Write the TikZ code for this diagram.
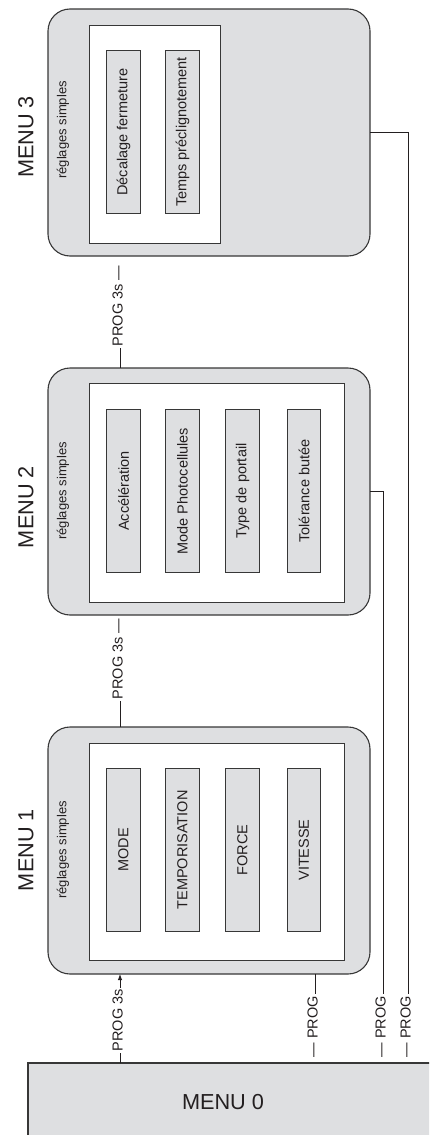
\documentclass[tikz,border=0pt]{standalone}
\usepackage{fontspec}
\setmainfont{Liberation Sans}
\usetikzlibrary{arrows.meta}
\definecolor{boxfill}{RGB}{222,223,225}
\definecolor{boxline}{RGB}{55,55,55}
\definecolor{ink}{RGB}{35,31,32}
\begin{document}
\begin{tikzpicture}[x=1pt,y=-1pt,
  menubox/.style={draw=boxline, fill=boxfill, line width=1.1pt, rounded corners=22pt,
    minimum width=322pt, minimum height=247pt, anchor=north west, inner sep=0pt, outer sep=0pt},
  innerbox/.style={draw=boxline, fill=white, line width=1pt, anchor=north west, inner sep=0pt, outer sep=0pt},
  itembox/.style={draw=boxline, fill=boxfill, line width=0.9pt, minimum width=163pt, minimum height=33.5pt,
    rotate=90, inner sep=0pt, font=\fontsize{14.5}{17}\selectfont, text=ink},
  reglbl/.style={rotate=90, inner sep=0pt, font=\fontsize{13}{15}\selectfont, text=ink},
  menulbl/.style={rotate=90, inner sep=0pt, font=\fontsize{21.7}{26}\selectfont, text=ink},
  proglbl/.style={rotate=90, anchor=mid west, inner xsep=1.5pt, inner ysep=0pt,
    font=\fontsize{14.5}{17}\selectfont, text=ink},
  conn/.style={draw=ink, line width=0.9pt},
]
\useasboundingbox (0,0) rectangle (429,1135);
\clip (0,0) rectangle (429,1135);

% MENU 0
\node[draw=boxline, fill=boxfill, line width=1.1pt, anchor=north west, inner sep=0pt, outer sep=0pt,
  minimum width=420pt, minimum height=90pt] (m0) at (28,1063) {};
\node[inner sep=0pt, font=\fontsize{21.7}{26}\selectfont, text=ink] (t0) at (223,1102) {MENU 0};

% MENU 3
\node[menubox] (m3) at (48,9) {};
\node[innerbox, minimum width=131pt, minimum height=218pt] (i3) at (89,25) {};
\node[itembox] (a3) at (123.5,132) {Décalage fermeture};
\node[itembox] (b3) at (182.5,132) {Temps préclignotement};
\node[reglbl] (r3) at (63,130) {réglages simples};
\node[menulbl] (n3) at (26,137) {MENU 3};

% MENU 2
\node[menubox] (m2) at (48,368) {};
\node[innerbox, minimum width=255pt, minimum height=219pt] (i2) at (89,383) {};
\node[itembox] (a2) at (123.5,491) {Accélération};
\node[itembox] (b2) at (182.5,491) {Mode Photocellules};
\node[itembox] (c2) at (242.5,491) {Type de portail};
\node[itembox] (d2) at (304,491) {Tolérance butée};
\node[reglbl] (r2) at (63,491) {réglages simples};
\node[menulbl] (n2) at (26,507) {MENU 2};

% MENU 1
\node[menubox] (m1) at (48,727) {};
\node[innerbox, minimum width=255pt, minimum height=217pt] (i1) at (89,743) {};
\node[itembox] (a1) at (123.5,850) {MODE};
\node[itembox] (b1) at (182.5,850) {TEMPORISATION};
\node[itembox] (c1) at (242.5,850) {FORCE};
\node[itembox] (d1) at (304,850) {VITESSE};
\node[reglbl] (r1) at (63,850) {réglages simples};
\node[menulbl] (n1) at (26,850) {MENU 1};

% PROG 3s labels
\node[proglbl] (l01) at (120,1053) {PROG 3s};
\node[proglbl] (l12) at (120,701) {PROG 3s —};
\node[proglbl] (l23) at (120,348) {PROG 3s —};

% PROG labels
\node[proglbl] (p1) at (315,1059) {— PROG};
\node[proglbl] (p2) at (383,1059) {— PROG};
\node[proglbl] (p3) at (408,1059) {— PROG};

% connectors
\draw[conn] (m0.north -| l01.mid west) -- (l01.mid west);
\draw[conn, -{Latex[length=6pt,width=4.5pt]}] (l01.mid east) -- (l01.mid east |- m1.south);
\draw[conn] (l12.mid west) -- (l12.mid west |- m1.north);
\draw[conn] (l23.mid west) -- (l23.mid west |- m2.north);
\draw[conn] (m1.south -| p1.mid east) -- (p1.mid east);
\draw[conn] (m2.east) -| (p2.mid east);
\draw[conn] (m3.east) -| (p3.mid east);
\end{tikzpicture}
\end{document}
